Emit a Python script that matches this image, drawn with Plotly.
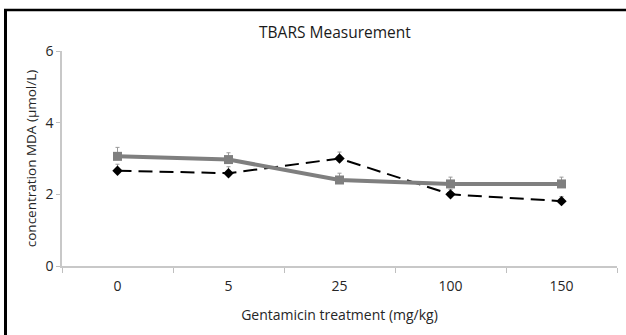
import plotly.graph_objects as go

# Gentamicin dose groups (mg/kg)
doses = ["0", "5", "25", "100", "150"]

# MDA concentration (µmol/L) for the two series
mda_square = [3.06, 2.97, 2.40, 2.29, 2.29]
mda_square_err = [0.25, 0.19, 0.19, 0.19, 0.19]
mda_diamond = [2.66, 2.59, 3.00, 2.00, 1.81]
mda_diamond_err = [0.18, 0.18, 0.18, 0.14, 0.13]

y_ticks = [0, 2, 4, 6]

fig = go.Figure()

fig.add_trace(go.Scatter(
    x=doses, y=mda_diamond, mode="lines+markers",
    line=dict(color="black", width=2, dash="14px,7px"),
    marker=dict(symbol="diamond", size=8, color="black"),
    error_y=dict(type="data", array=mda_diamond_err, symmetric=False,
                 arrayminus=[0] * len(doses), color="#9a9a9a",
                 thickness=1, width=2),
    showlegend=False,
))

fig.add_trace(go.Scatter(
    x=doses, y=mda_square, mode="lines+markers",
    line=dict(color="#7f7f7f", width=4),
    marker=dict(symbol="square", size=9, color="#7f7f7f"),
    error_y=dict(type="data", array=mda_square_err, symmetric=False,
                 arrayminus=[0] * len(doses), color="#9a9a9a",
                 thickness=1, width=2),
    showlegend=False,
))

font_family = "Open Sans, Lato, sans-serif"

fig.update_layout(
    width=626, height=335,
    margin=dict(l=62, r=9, t=51, b=69),
    paper_bgcolor="white", plot_bgcolor="white",
    font=dict(family=font_family, size=14, color="#262626"),
    title=dict(text="TBARS Measurement", x=0.535, xanchor="center",
               y=1 - 33 / 335, yanchor="middle",
               font=dict(size=15.5, color="#1a1a1a")),
    xaxis=dict(
        type="category", range=[-0.5, 4.5], tickson="boundaries",
        ticks="outside", ticklen=5, tickcolor="#bfbfbf", tickwidth=1,
        showline=True, linecolor="#c8c8c8", linewidth=1.5,
        showgrid=False, zeroline=False,
        tickfont=dict(size=14), ticklabelstandoff=6,
        title=dict(text="Gentamicin treatment (mg/kg)", standoff=17,
                   font=dict(size=14)),
    ),
    yaxis=dict(
        range=[0, 6], tickvals=y_ticks, ticktext=[str(v) for v in y_ticks],
        ticks="outside", ticklen=4, tickcolor="#bfbfbf", tickwidth=1,
        showline=True, linecolor="#c8c8c8", linewidth=1.5,
        showgrid=False, zeroline=False,
        tickfont=dict(size=14),
        title=dict(text="concentration MDA (µmol/L)", standoff=6,
                   font=dict(size=13.5)),
    ),
)

# Framing border (left and top edges of the surrounding box)
plot_w = 626 - 62 - 9
plot_h = 335 - 51 - 69
def px_x(p):
    return (p - 62) / plot_w
def px_y(p):
    return (335 - 69 - p) / plot_h

fig.add_shape(type="line", xref="paper", yref="paper",
              x0=px_x(5.5), x1=px_x(5.5), y0=px_y(9), y1=px_y(340),
              line=dict(color="black", width=3))
fig.add_shape(type="line", xref="paper", yref="paper",
              x0=px_x(4), x1=px_x(630), y0=px_y(10), y1=px_y(10),
              line=dict(color="black", width=2.5))

fig.write_html("out.html")
